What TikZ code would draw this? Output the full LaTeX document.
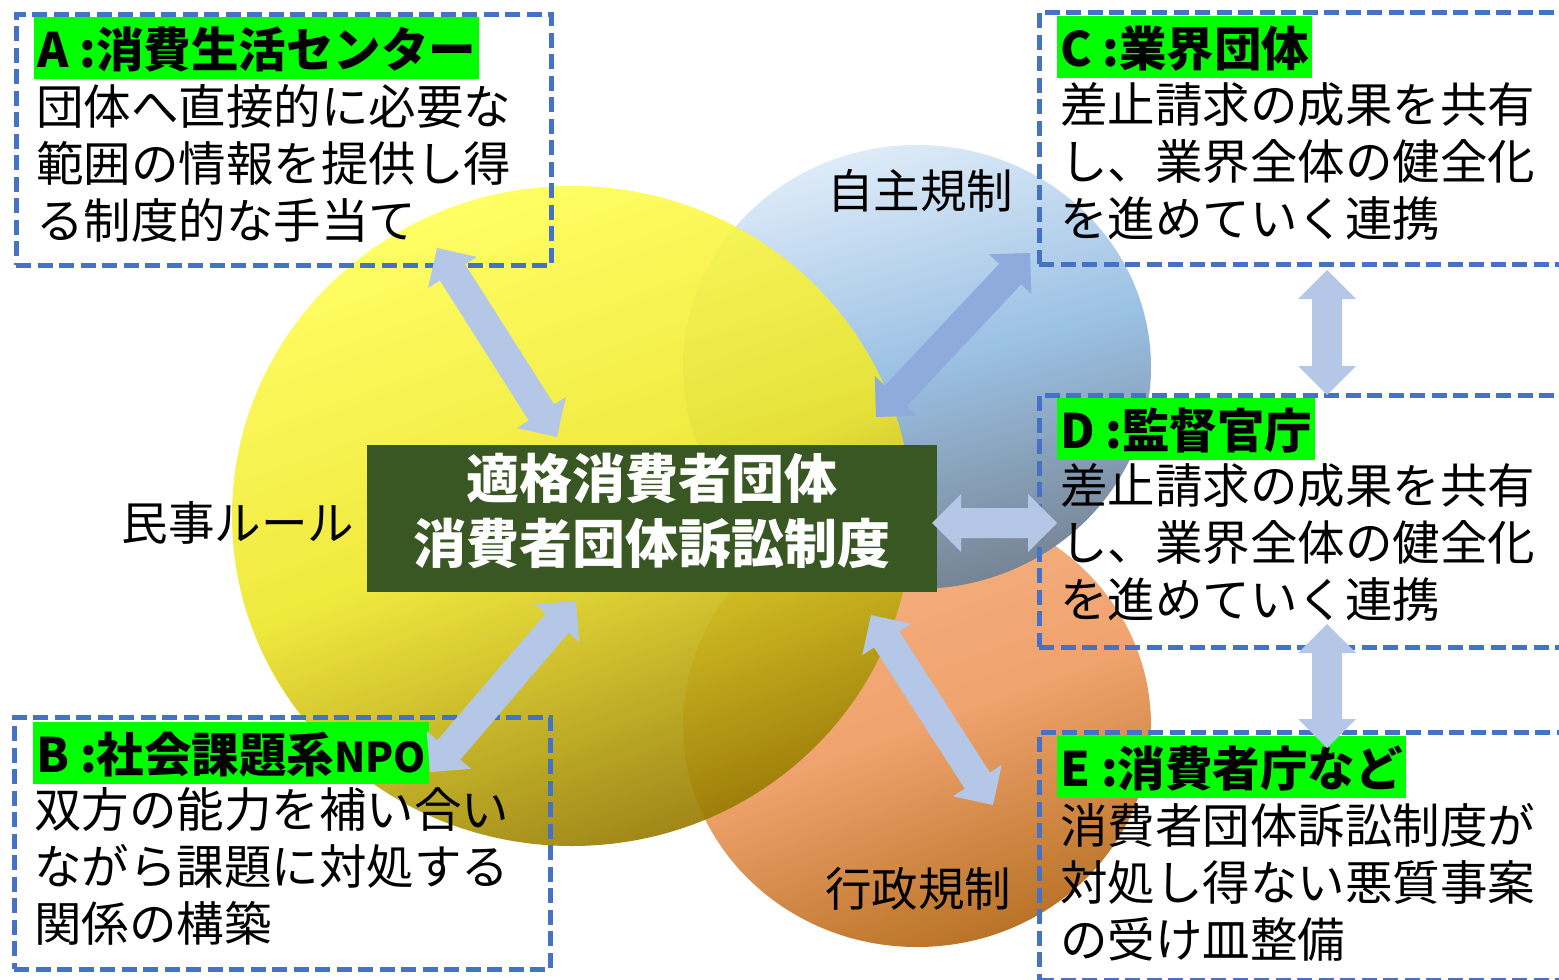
\documentclass[tikz,border=0pt]{standalone}
\usepackage{fontspec}
\setmainfont{Noto Sans CJK JP}
\usetikzlibrary{calc}
\definecolor{boxblue}{HTML}{4472C4}
\definecolor{arrowblue}{HTML}{B4C7E7}
\definecolor{arrowblueC}{HTML}{8FAADC}
\definecolor{coregreen}{HTML}{385723}
\definecolor{labelgreen}{HTML}{00FF00}
\definecolor{yelTop}{RGB}{255,255,85}
\definecolor{yelMid}{RGB}{238,230,40}
\definecolor{yelBot}{RGB}{150,122,0}
\definecolor{bluTop}{RGB}{222,235,248}
\definecolor{bluMid}{RGB}{155,193,228}
\definecolor{bluBot}{RGB}{118,132,148}
\definecolor{oraTop}{RGB}{245,178,132}
\definecolor{oraMid}{RGB}{240,163,110}
\definecolor{oraBot}{RGB}{185,115,38}
\newcommand\fatarrow[3]{%
  \fill[#3] (#1) -- ($(#1)!29pt!(#2)!29pt!90:(#2)$) -- ($(#1)!29pt!(#2)!15pt!90:(#2)$)
    -- ($(#2)!29pt!(#1)!15pt!-90:(#1)$) -- ($(#2)!29pt!(#1)!29pt!-90:(#1)$) -- (#2)
    -- ($(#2)!29pt!(#1)!29pt!90:(#1)$) -- ($(#2)!29pt!(#1)!15pt!90:(#1)$)
    -- ($(#1)!29pt!(#2)!15pt!-90:(#2)$) -- ($(#1)!29pt!(#2)!29pt!-90:(#2)$) -- cycle;}
\tikzset{
  dbox/.style={draw=boxblue, line width=4.5pt, dash pattern=on 15pt off 6.5pt, anchor=north west, inner sep=0pt},
  lbl/.style={fill=labelgreen, anchor=north west, inner xsep=3pt, inner ysep=0pt, minimum height=62pt,
    text height=38pt, text depth=0pt, font=\fontsize{47.5}{57}\selectfont\bfseries},
  body/.style={anchor=base west, align=left, inner sep=0pt, font=\fontsize{47.5}{57}\selectfont},
  ring/.style={font=\fontsize{46.5}{57}\selectfont, inner sep=0pt, anchor=base},
}
\begin{document}
\begin{tikzpicture}[x=1pt,y=-1pt]
\useasboundingbox (0,0) rectangle (1559,980);
\fill[white] (0,0) rectangle (1559,980);
% circles
\shade[top color=oraTop, bottom color=oraBot, middle color=oraMid, shading angle=20] (917,725) ellipse [x radius=234pt, y radius=222pt];
\shade[top color=bluTop, bottom color=bluBot, middle color=bluMid, shading angle=15] (917,367) ellipse [x radius=234pt, y radius=222pt];
\shade[top color=yelTop, bottom color=yelBot, middle color=yelMid, shading angle=20, fill opacity=0.9] (572,516) ellipse [x radius=340pt, y radius=330pt];
% ring labels
\node[ring] (self) at (920,208) {自主規制};
\node[ring] (civil) at (238,540) {民事ルール};
\node[ring] (admin) at (918,906) {行政規制};
% dashed boxes
\node[dbox, minimum width=535pt, minimum height=251pt] (boxA) at (14,12) {};
\node[dbox, minimum width=536pt, minimum height=252pt] (boxB) at (12,715) {};
\node[dbox, minimum width=540pt, minimum height=252pt] (boxC) at (1037,10) {};
\node[dbox, minimum width=540pt, minimum height=252pt] (boxD) at (1037,393) {};
\node[dbox, minimum width=540pt, minimum height=248pt] (boxE) at (1037,730) {};
% labels
\node[lbl] (labA) at (34,17) {A :消費生活センター};
\node[lbl] (labB) at (33,722) {B :社会課題系{\fontsize{41}{57}\selectfont NPO}};
\node[lbl] (labC) at (1057,16) {C :業界団体};
\node[lbl] (labD) at (1057,398) {D :監督官庁};
\node[lbl] (labE) at (1057,736) {E :消費者庁など};
% body texts (base anchor = last line baseline)
\node[body] (txtA) at (36,238) {団体へ直接的に必要な\\範囲の情報を提供し得\\る制度的な手当て};
\node[body] (txtB) at (34,941) {双方の能力を補い合い\\ながら課題に対処する\\関係の構築};
\node[body] (txtC) at (1060,236) {差止請求の成果を共有\\し、業界全体の健全化\\を進めていく連携};
\node[body] (txtD) at (1060,617) {差止請求の成果を共有\\し、業界全体の健全化\\を進めていく連携};
\node[body] (txtE) at (1060,957) {消費者団体訴訟制度が\\対処し得ない悪質事案\\の受け皿整備};
% core
\node[fill=coregreen, minimum width=570pt, minimum height=147pt, inner sep=0pt] (core) at (652,518.5) {};
\node[text=white, align=center, anchor=base, inner sep=0pt,
  font=\fontsize{53}{65}\selectfont\bfseries] (coretxt) at (652,563) {適格消費者団体\\消費者団体訴訟制度};
% arrow end points
\coordinate (aA1) at (437,248); \coordinate (aA2) at (557,437);
\coordinate (aB1) at (576,601); \coordinate (aB2) at (430,772);
\coordinate (aC1) at (1030,253); \coordinate (aC2) at (876,417);
\coordinate (aE1) at (871,615); \coordinate (aE2) at (993,805);
\coordinate (aD1) at (932,523); \coordinate (aD2) at (1057,523);
\coordinate (aCD1) at (1327,270); \coordinate (aCD2) at (1327,395);
\coordinate (aDE1) at (1327,624); \coordinate (aDE2) at (1327,748);
\fatarrow{aA1}{aA2}{arrowblue}
\fatarrow{aB1}{aB2}{arrowblue}
\fatarrow{aC1}{aC2}{arrowblueC}
\fatarrow{aE1}{aE2}{arrowblue}
\fatarrow{aD1}{aD2}{arrowblue}
\fatarrow{aCD1}{aCD2}{arrowblue}
\fatarrow{aDE1}{aDE2}{arrowblue}
\end{tikzpicture}
\end{document}
